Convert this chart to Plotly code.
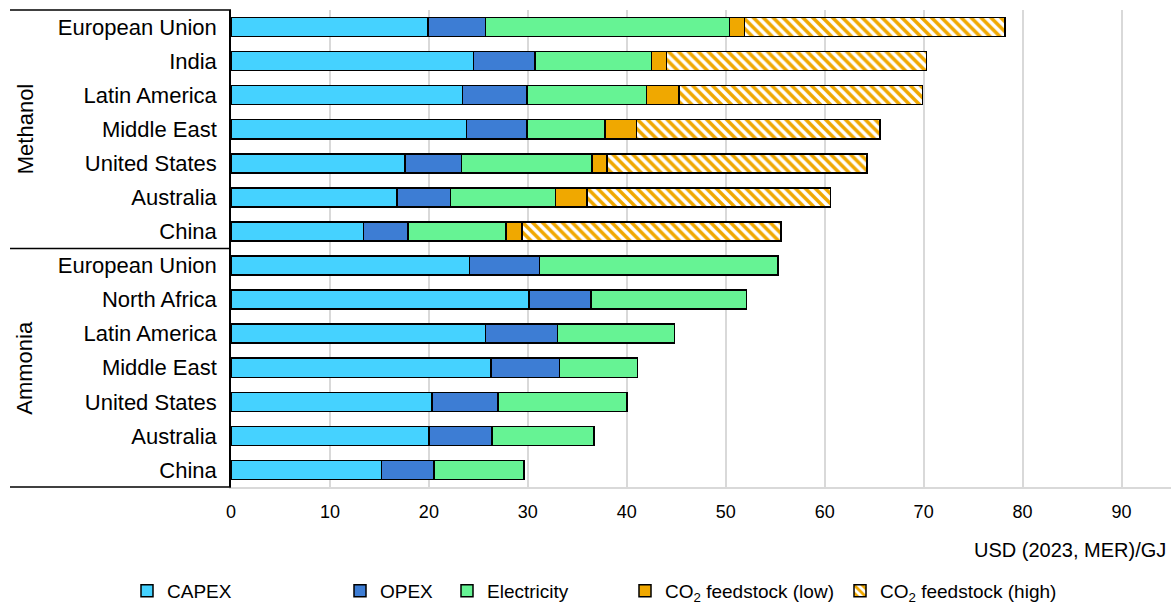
import plotly.graph_objects as go

# ---------------- data ----------------
methanol_regions = ["European Union", "India", "Latin America", "Middle East",
                    "United States", "Australia", "China"]
ammonia_regions = ["European Union", "North Africa", "Latin America", "Middle East",
                   "United States", "Australia", "China"]

capex_methanol = [19.9, 24.5, 23.4, 23.8, 17.6, 16.8, 13.4]
opex_methanol = [5.8, 6.2, 6.5, 6.1, 5.7, 5.4, 4.5]
elec_methanol = [24.7, 11.8, 12.1, 7.9, 13.2, 10.6, 9.9]
co2_low_methanol = [1.5, 1.5, 3.3, 3.2, 1.5, 3.2, 1.6]
co2_high_methanol = [26.3, 26.3, 24.6, 24.6, 26.3, 24.6, 26.2]

capex_ammonia = [24.1, 30.1, 25.7, 26.3, 20.3, 20.0, 15.2]
opex_ammonia = [7.1, 6.3, 7.3, 6.9, 6.7, 6.4, 5.3]
elec_ammonia = [24.1, 15.7, 11.8, 7.9, 13.0, 10.3, 9.1]

x_ticks = [0, 10, 20, 30, 40, 50, 60, 70, 80, 90]
axis_title = "USD (2023, MER)/GJ"
group_labels = ["Methanol", "Ammonia"]

# ---------------- build ----------------
labels = methanol_regions + ammonia_regions
ypos = list(range(len(labels)))
n_m = len(methanol_regions)
n_a = len(ammonia_regions)

series = [
    ("CAPEX", capex_methanol + capex_ammonia, "#45D2FF", None),
    ("OPEX", opex_methanol + opex_ammonia, "#3D7DD4", None),
    ("Electricity", elec_methanol + elec_ammonia, "#66F394", None),
    ("CO<sub>2</sub> feedstock (low)", co2_low_methanol + [None] * n_a, "#F0A800", None),
    ("CO<sub>2</sub> feedstock (high)", co2_high_methanol + [None] * n_a, "#FFFFFF", "#F0A800"),
]

FONT = "Liberation Sans, Arial, sans-serif"
fig = go.Figure()
legend_names = ["legend2", "legend3", "legend4", "legend5", "legend6"]
for (name, vals, col, hatch), lg in zip(series, legend_names):
    marker = dict(color=col, line=dict(color="#000000", width=1.5))
    if hatch:
        marker["pattern"] = dict(shape="\\", fgcolor=hatch, bgcolor="#FFFFFF",
                                 size=7, solidity=0.5, fillmode="replace")
    fig.add_trace(go.Bar(y=ypos, x=vals, name=name, orientation="h",
                         marker=marker, width=0.56, legend=lg, showlegend=True))

# legend positions (text start px)
text_starts = [167, 380, 487, 665, 880]
legend_cfg = {}
for lg, ts in zip(legend_names, text_starts):
    legend_cfg[lg] = dict(orientation="h", xref="container", yref="container",
                          x=(ts - 40) / 1174, xanchor="left",
                          y=1 - 591 / 604, yanchor="middle",
                          itemwidth=30, bgcolor="rgba(0,0,0,0)",
                          font=dict(family=FONT, size=19, color="#000000"))

fig.update_layout(
    width=1174, height=604,
    margin=dict(l=231, r=3, t=10, b=117, autoexpand=False),
    barmode="stack",
    plot_bgcolor="#FFFFFF", paper_bgcolor="#FFFFFF",
    font=dict(family=FONT, size=18, color="#000000"),
    **legend_cfg,
)

fig.update_xaxes(range=[0, 95], tickvals=x_ticks, showgrid=True,
                 gridcolor="#D9D9D9", gridwidth=1.5, zeroline=False,
                 showline=True, linecolor="#D9D9D9", linewidth=1.5,
                 ticks="", tickfont=dict(size=18, family=FONT),
                 ticklabelstandoff=8, automargin=False)
fig.update_yaxes(range=[len(labels) - 0.5, -0.5], tickvals=ypos, ticktext=labels,
                 showgrid=False, zeroline=False, showline=True,
                 linecolor="#000000", linewidth=1.5, ticks="",
                 tickfont=dict(size=22, family=FONT), ticklabelstandoff=8,
                 automargin=False)

plot_w = 1174 - 231 - 3
x_left = (10 - 231) / plot_w
# group separators
for yv, yref in [(1, "paper"), (n_m - 0.5, "y"), (0, "paper")]:
    fig.add_shape(type="line", xref="paper", yref=yref, x0=x_left, x1=0,
                  y0=yv, y1=yv, line=dict(color="#000000", width=1.5))

# group labels
for txt, center in [(group_labels[0], (n_m - 1) / 2), (group_labels[1], n_m + (n_a - 1) / 2)]:
    fig.add_annotation(text=txt, xref="paper", yref="y", x=(25 - 231) / plot_w, y=center,
                       textangle=-90, showarrow=False, xanchor="center", yanchor="middle",
                       font=dict(size=22, family=FONT, color="#000000"))

# axis title
fig.add_annotation(text=axis_title, xref="paper", yref="paper",
                   x=(1168 - 231) / plot_w, xanchor="right",
                   y=(487 - 550) / 477, yanchor="middle", showarrow=False,
                   font=dict(size=20, family=FONT, color="#000000"))

fig.write_html("out.html", config={"displayModeBar": False},
               post_script="document.body.style.margin='0';document.body.style.overflow='hidden';")
